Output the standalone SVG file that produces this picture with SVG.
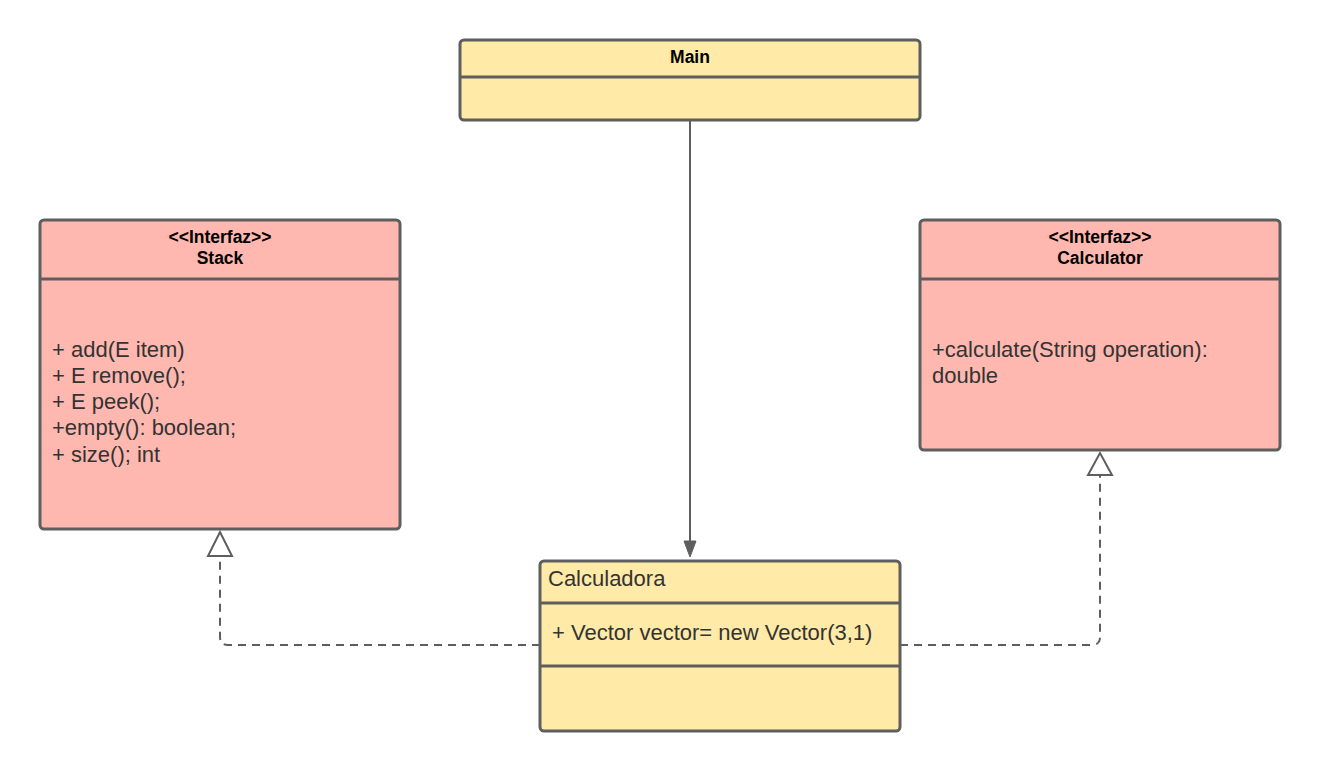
<svg xmlns="http://www.w3.org/2000/svg" width="1320" height="771" viewBox="0 0 1320 771">
<style>
.box{stroke:#5e5e5e;stroke-width:3}
.y{fill:#ffeaa7}
.p{fill:#ffb8b0}
.sep{stroke:#5e5e5e;stroke-width:3}
.t{font-family:"Liberation Sans",Arial,sans-serif;font-size:17.5px;font-weight:bold;fill:#000;text-anchor:middle}
.b{font-family:"Liberation Sans",Arial,sans-serif;font-size:22px;fill:#333}
.c{fill:none;stroke:#5e5e5e;stroke-width:2}
.d{stroke-dasharray:8 6}
</style>
<g id="connectors">
<line class="c" x1="690" y1="121" x2="690" y2="545"/>
<path d="M684,541 L696,541 L690,557 Z" fill="#5e5e5e" stroke="#5e5e5e" stroke-width="1"/>
<path class="c d" d="M540,645 L228,645 Q220,645 220,637 L220,556"/>
<path d="M208,556 L232,556 L220,532 Z" fill="#fff" stroke="#5e5e5e" stroke-width="2"/>
<path class="c d" d="M900,645 L1092,645 Q1100,645 1100,637 L1100,475"/>
<path d="M1088,475 L1112,475 L1100,453 Z" fill="#fff" stroke="#5e5e5e" stroke-width="2"/>
</g>
<g id="main">
<rect class="box y" x="460" y="40" width="460" height="80" rx="4"/>
<line class="sep" x1="460" y1="77" x2="920" y2="77"/>
<text class="t" x="690" y="63">Main</text>
</g>
<g id="stack">
<rect class="box p" x="40" y="220" width="360" height="309" rx="4"/>
<line class="sep" x1="40" y1="279" x2="400" y2="279"/>
<text class="t" x="220" y="243">&lt;&lt;Interfaz&gt;&gt;</text>
<text class="t" x="220" y="264">Stack</text>
<text class="b" x="52" y="357">+ add(E item)</text>
<text class="b" x="52" y="383">+ E remove();</text>
<text class="b" x="52" y="409">+ E peek();</text>
<text class="b" x="52" y="435">+empty(): boolean;</text>
<text class="b" x="52" y="462">+ size(); int</text>
</g>
<g id="calculator">
<rect class="box p" x="920" y="220" width="360" height="230" rx="4"/>
<line class="sep" x1="920" y1="279" x2="1280" y2="279"/>
<text class="t" x="1100" y="243">&lt;&lt;Interfaz&gt;&gt;</text>
<text class="t" x="1100" y="264">Calculator</text>
<text class="b" x="932" y="357">+calculate(String operation):</text>
<text class="b" x="932" y="383">double</text>
</g>
<g id="calculadora">
<rect class="box y" x="540" y="561" width="360" height="170" rx="4"/>
<line class="sep" x1="540" y1="603" x2="900" y2="603"/>
<line class="sep" x1="540" y1="666" x2="900" y2="666"/>
<text class="b" x="548" y="586">Calculadora</text>
<text class="b" x="552" y="640">+ Vector vector= new Vector(3,1)</text>
</g>
</svg>
